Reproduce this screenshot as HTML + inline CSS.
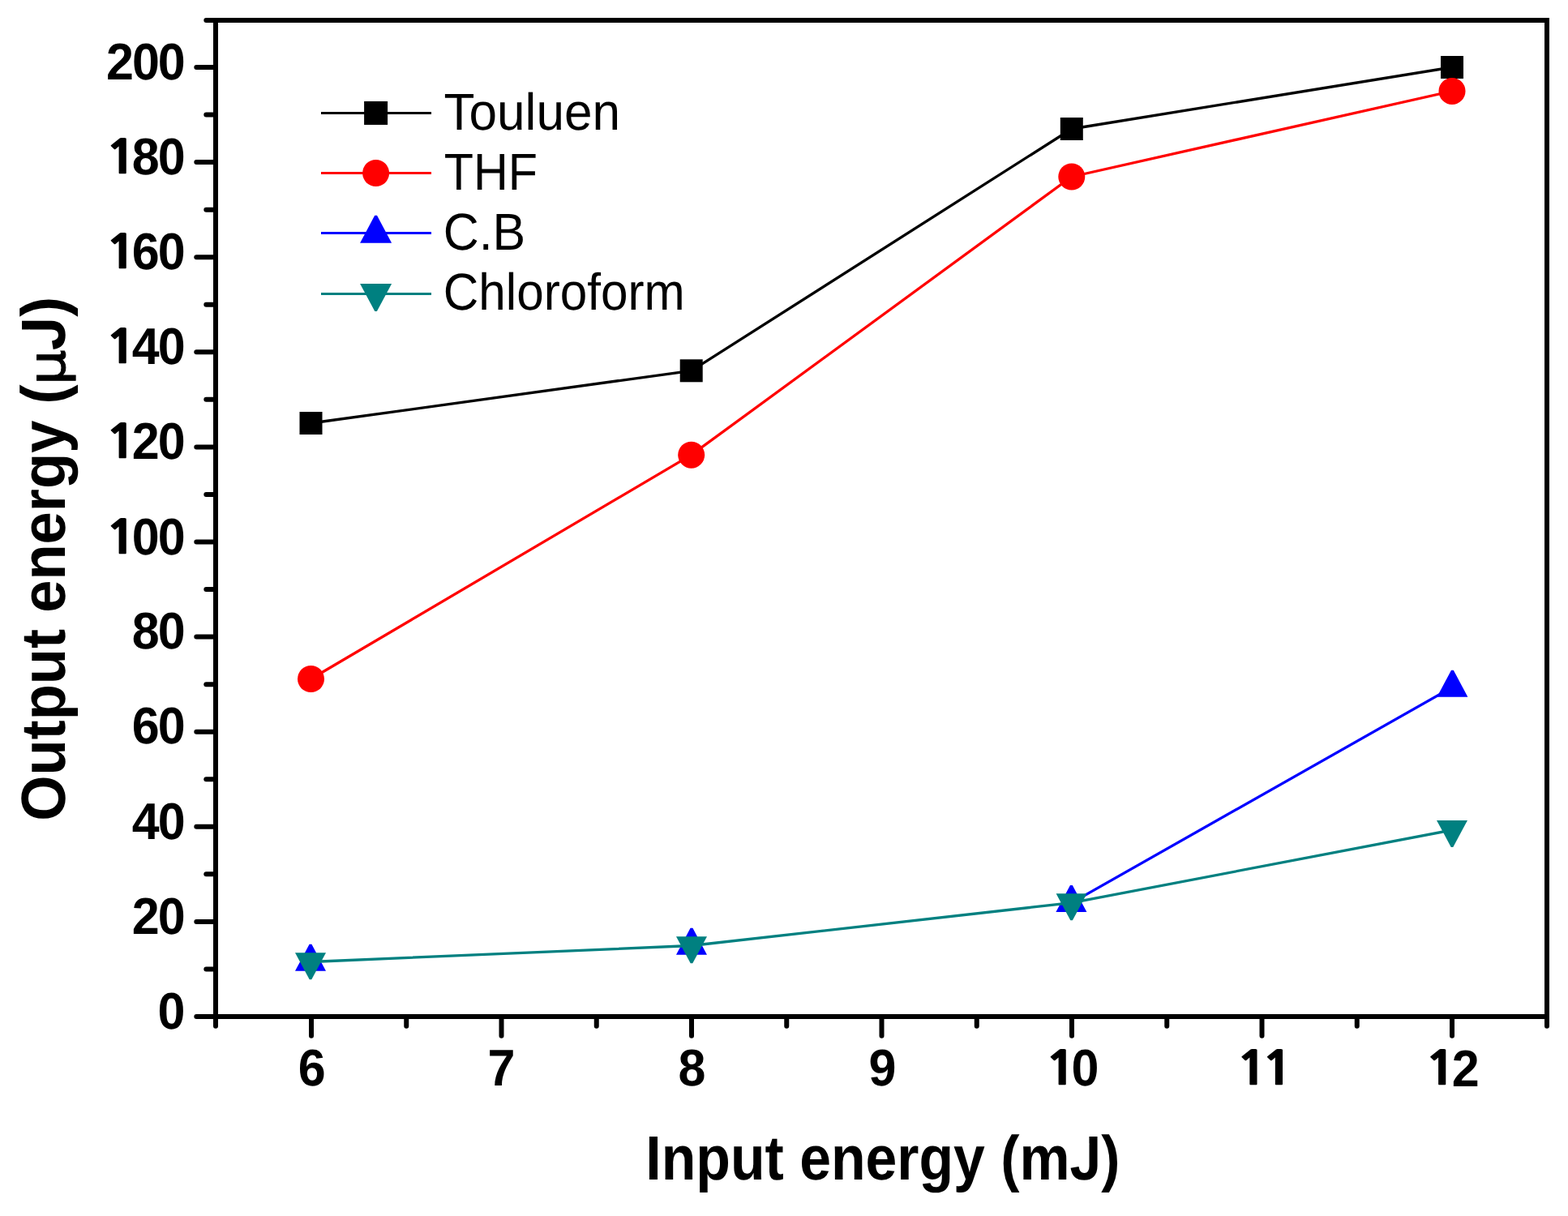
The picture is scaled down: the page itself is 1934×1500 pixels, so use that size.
<!DOCTYPE html>
<html><head><meta charset="utf-8"><title>Output energy vs Input energy</title>
<style>
html,body{margin:0;padding:0;background:#fff;width:1934px;height:1500px;overflow:hidden}
svg{display:block}
text{fill:#000;text-rendering:geometricPrecision}
</style></head>
<body>
<svg width="1934" height="1500" viewBox="0 0 1934 1500">
<rect width="1934" height="1500" fill="#fff"/>
<g>
<polyline points="383.50,522.00 852.70,457.30 1321.80,159.00 1791.00,83.00" fill="none" stroke="#000000" stroke-width="3.3" stroke-linejoin="round"/>
<rect x="369.50" y="508.00" width="28" height="28" fill="#000"/>
<rect x="838.70" y="443.30" width="28" height="28" fill="#000"/>
<rect x="1307.80" y="145.00" width="28" height="28" fill="#000"/>
<rect x="1777.00" y="69.00" width="28" height="28" fill="#000"/>
<polyline points="383.50,837.50 852.70,561.20 1321.80,218.00 1791.00,112.40" fill="none" stroke="#ff0000" stroke-width="3.3" stroke-linejoin="round"/>
<circle cx="383.50" cy="837.50" r="16.5" fill="#ff0000"/>
<circle cx="852.70" cy="561.20" r="16.5" fill="#ff0000"/>
<circle cx="1321.80" cy="218.00" r="16.5" fill="#ff0000"/>
<circle cx="1791.00" cy="112.40" r="16.5" fill="#ff0000"/>
<polyline points="1321.80,1113.60 1791.00,847.80" fill="none" stroke="#0000ff" stroke-width="3.3" stroke-linejoin="round"/>
<polygon points="381.60,1164.80 384.40,1164.80 402.00,1197.80 364.00,1197.80" fill="#0000ff"/>
<polygon points="851.60,1144.80 854.40,1144.80 872.00,1177.80 834.00,1177.80" fill="#0000ff"/>
<polygon points="1320.00,1092.00 1322.80,1092.00 1340.40,1125.00 1302.40,1125.00" fill="#0000ff"/>
<polygon points="1790.00,826.80 1792.80,826.80 1810.40,859.80 1772.40,859.80" fill="#0000ff"/>
<polyline points="383.50,1186.50 852.70,1166.50 1321.80,1113.60 1791.00,1023.90" fill="none" stroke="#008080" stroke-width="3.3" stroke-linejoin="round"/>
<polygon points="364.00,1175.20 402.00,1175.20 384.30,1208.20 381.70,1208.20" fill="#008080"/>
<polygon points="834.00,1155.20 872.00,1155.20 854.30,1188.20 851.70,1188.20" fill="#008080"/>
<polygon points="1302.60,1102.20 1340.60,1102.20 1322.90,1135.20 1320.30,1135.20" fill="#008080"/>
<polygon points="1772.00,1011.90 1810.00,1011.90 1792.30,1044.90 1789.70,1044.90" fill="#008080"/>
</g>
<g stroke="#000" stroke-width="6" stroke-linecap="round">
<line x1="266.0" y1="1254.00" x2="242.30" y2="1254.00"/>
<line x1="266.0" y1="1195.45" x2="254.30" y2="1195.45"/>
<line x1="266.0" y1="1136.90" x2="242.30" y2="1136.90"/>
<line x1="266.0" y1="1078.35" x2="254.30" y2="1078.35"/>
<line x1="266.0" y1="1019.80" x2="242.30" y2="1019.80"/>
<line x1="266.0" y1="961.25" x2="254.30" y2="961.25"/>
<line x1="266.0" y1="902.70" x2="242.30" y2="902.70"/>
<line x1="266.0" y1="844.15" x2="254.30" y2="844.15"/>
<line x1="266.0" y1="785.60" x2="242.30" y2="785.60"/>
<line x1="266.0" y1="727.05" x2="254.30" y2="727.05"/>
<line x1="266.0" y1="668.50" x2="242.30" y2="668.50"/>
<line x1="266.0" y1="609.95" x2="254.30" y2="609.95"/>
<line x1="266.0" y1="551.40" x2="242.30" y2="551.40"/>
<line x1="266.0" y1="492.85" x2="254.30" y2="492.85"/>
<line x1="266.0" y1="434.30" x2="242.30" y2="434.30"/>
<line x1="266.0" y1="375.75" x2="254.30" y2="375.75"/>
<line x1="266.0" y1="317.20" x2="242.30" y2="317.20"/>
<line x1="266.0" y1="258.65" x2="254.30" y2="258.65"/>
<line x1="266.0" y1="200.10" x2="242.30" y2="200.10"/>
<line x1="266.0" y1="141.55" x2="254.30" y2="141.55"/>
<line x1="266.0" y1="83.00" x2="242.30" y2="83.00"/>
<line x1="266.0" y1="25.00" x2="254.30" y2="25.00"/>
<line x1="266.00" y1="1254.0" x2="266.00" y2="1265.70"/>
<line x1="384.00" y1="1254.0" x2="384.00" y2="1277.70"/>
<line x1="501.25" y1="1254.0" x2="501.25" y2="1265.70"/>
<line x1="618.50" y1="1254.0" x2="618.50" y2="1277.70"/>
<line x1="735.75" y1="1254.0" x2="735.75" y2="1265.70"/>
<line x1="853.00" y1="1254.0" x2="853.00" y2="1277.70"/>
<line x1="970.25" y1="1254.0" x2="970.25" y2="1265.70"/>
<line x1="1087.50" y1="1254.0" x2="1087.50" y2="1277.70"/>
<line x1="1204.75" y1="1254.0" x2="1204.75" y2="1265.70"/>
<line x1="1322.00" y1="1254.0" x2="1322.00" y2="1277.70"/>
<line x1="1439.25" y1="1254.0" x2="1439.25" y2="1265.70"/>
<line x1="1556.50" y1="1254.0" x2="1556.50" y2="1277.70"/>
<line x1="1673.75" y1="1254.0" x2="1673.75" y2="1265.70"/>
<line x1="1791.00" y1="1254.0" x2="1791.00" y2="1277.70"/>
<line x1="1908.00" y1="1254.0" x2="1908.00" y2="1265.70"/>
</g>
<rect x="266" y="25" width="1642" height="1229" fill="none" stroke="#000" stroke-width="6"/>
<line x1="396" y1="139.45" x2="532" y2="139.45" stroke="#000000" stroke-width="3"/>
<rect x="449.10" y="124.95" width="29" height="29" fill="#000"/>
<line x1="396" y1="213.5" x2="532" y2="213.5" stroke="#ff0000" stroke-width="3"/>
<circle cx="463.60" cy="213.50" r="16.5" fill="#ff0000"/>
<line x1="396" y1="287.4" x2="532" y2="287.4" stroke="#0000ff" stroke-width="3"/>
<polygon points="462.20,265.80 465.00,265.80 483.10,299.80 444.10,299.80" fill="#0000ff"/>
<line x1="396" y1="362.5" x2="532" y2="362.5" stroke="#008080" stroke-width="3"/>
<polygon points="444.10,350.10 483.10,350.10 464.90,384.10 462.30,384.10" fill="#008080"/>
<text transform="translate(194.59,1268.65) scale(0.959,1)" style="font-family:'Liberation Sans',Arial,Helvetica,sans-serif;font-weight:bold;font-size:63.6px" letter-spacing="-2.2">0</text>
<text transform="translate(162.83,1152.26) scale(0.959,1)" style="font-family:'Liberation Sans',Arial,Helvetica,sans-serif;font-weight:bold;font-size:63.6px" letter-spacing="-2.2">20</text>
<text transform="translate(162.83,1034.85) scale(0.959,1)" style="font-family:'Liberation Sans',Arial,Helvetica,sans-serif;font-weight:bold;font-size:63.6px" letter-spacing="-2.2">40</text>
<text transform="translate(162.83,917.44) scale(0.959,1)" style="font-family:'Liberation Sans',Arial,Helvetica,sans-serif;font-weight:bold;font-size:63.6px" letter-spacing="-2.2">60</text>
<text transform="translate(162.83,800.04) scale(0.959,1)" style="font-family:'Liberation Sans',Arial,Helvetica,sans-serif;font-weight:bold;font-size:63.6px" letter-spacing="-2.2">80</text>
<text transform="translate(129.42,682.65) scale(1.18,1)" style="font-family:'NanumGothic','Liberation Sans',sans-serif;font-weight:800;font-size:56.8px">1</text>
<text transform="translate(162.83,683.65) scale(0.959,1)" style="font-family:'Liberation Sans',Arial,Helvetica,sans-serif;font-weight:bold;font-size:63.6px" letter-spacing="-2.2">00</text>
<text transform="translate(129.42,565.25) scale(1.18,1)" style="font-family:'NanumGothic','Liberation Sans',sans-serif;font-weight:800;font-size:56.8px">1</text>
<text transform="translate(162.83,566.26) scale(0.959,1)" style="font-family:'Liberation Sans',Arial,Helvetica,sans-serif;font-weight:bold;font-size:63.6px" letter-spacing="-2.2">20</text>
<text transform="translate(129.42,447.85) scale(1.18,1)" style="font-family:'NanumGothic','Liberation Sans',sans-serif;font-weight:800;font-size:56.8px">1</text>
<text transform="translate(162.83,448.85) scale(0.959,1)" style="font-family:'Liberation Sans',Arial,Helvetica,sans-serif;font-weight:bold;font-size:63.6px" letter-spacing="-2.2">40</text>
<text transform="translate(129.42,331.45) scale(1.18,1)" style="font-family:'NanumGothic','Liberation Sans',sans-serif;font-weight:800;font-size:56.8px">1</text>
<text transform="translate(162.83,332.44) scale(0.959,1)" style="font-family:'Liberation Sans',Arial,Helvetica,sans-serif;font-weight:bold;font-size:63.6px" letter-spacing="-2.2">60</text>
<text transform="translate(129.42,214.05) scale(1.18,1)" style="font-family:'NanumGothic','Liberation Sans',sans-serif;font-weight:800;font-size:56.8px">1</text>
<text transform="translate(162.83,215.04) scale(0.959,1)" style="font-family:'Liberation Sans',Arial,Helvetica,sans-serif;font-weight:bold;font-size:63.6px" letter-spacing="-2.2">80</text>
<text transform="translate(131.11,97.66) scale(0.959,1)" style="font-family:'Liberation Sans',Arial,Helvetica,sans-serif;font-weight:bold;font-size:63.6px" letter-spacing="-2.2">200</text>
<text transform="translate(367.66,1338.84) scale(0.959,1)" style="font-family:'Liberation Sans',Arial,Helvetica,sans-serif;font-weight:bold;font-size:63.6px" letter-spacing="-2.2">6</text>
<text transform="translate(601.52,1338.81) scale(0.959,1)" style="font-family:'Liberation Sans',Arial,Helvetica,sans-serif;font-weight:bold;font-size:63.6px" letter-spacing="-2.2">7</text>
<text transform="translate(836.49,1338.84) scale(0.959,1)" style="font-family:'Liberation Sans',Arial,Helvetica,sans-serif;font-weight:bold;font-size:63.6px" letter-spacing="-2.2">8</text>
<text transform="translate(1071.53,1338.88) scale(0.959,1)" style="font-family:'Liberation Sans',Arial,Helvetica,sans-serif;font-weight:bold;font-size:63.6px" letter-spacing="-2.2">9</text>
<text transform="translate(1288.59,1338.25) scale(1.18,1)" style="font-family:'NanumGothic','Liberation Sans',sans-serif;font-weight:800;font-size:56.8px">1</text>
<text transform="translate(1321.56,1338.86) scale(0.959,1)" style="font-family:'Liberation Sans',Arial,Helvetica,sans-serif;font-weight:bold;font-size:63.6px" letter-spacing="-2.2">0</text>
<text transform="translate(1524.18,1338.25) scale(1.18,1)" style="font-family:'NanumGothic','Liberation Sans',sans-serif;font-weight:800;font-size:56.8px">1</text>
<text transform="translate(1555.86,1338.25) scale(1.18,1)" style="font-family:'NanumGothic','Liberation Sans',sans-serif;font-weight:800;font-size:56.8px">1</text>
<text transform="translate(1757.02,1338.25) scale(1.18,1)" style="font-family:'NanumGothic','Liberation Sans',sans-serif;font-weight:800;font-size:56.8px">1</text>
<text transform="translate(1790.75,1339.92) scale(0.959,1)" style="font-family:'Liberation Sans',Arial,Helvetica,sans-serif;font-weight:bold;font-size:63.6px" letter-spacing="-2.2">2</text>
<text transform="translate(547.43,159.68) scale(0.9706,1)" style="font-family:'Liberation Sans',Arial,Helvetica,sans-serif;font-weight:normal;font-size:64px">Touluen</text>
<text transform="translate(547.81,234.20) scale(0.9266,1)" style="font-family:'Liberation Sans',Arial,Helvetica,sans-serif;font-weight:normal;font-size:64px">THF</text>
<text transform="translate(546.72,307.70) scale(0.9516,1)" style="font-family:'Liberation Sans',Arial,Helvetica,sans-serif;font-weight:normal;font-size:64px">C.B</text>
<text transform="translate(546.76,381.70) scale(0.9411,1)" style="font-family:'Liberation Sans',Arial,Helvetica,sans-serif;font-weight:normal;font-size:64px">Chloroform</text>
<text transform="translate(796.34,1454.70) scale(0.9058,1)" style="font-family:'Liberation Sans',Arial,Helvetica,sans-serif;font-weight:bold;font-size:77px">Input energy (mJ)</text>
<text transform="translate(80.00,1012.87) rotate(-90) scale(0.9393,1)" style="font-family:'Liberation Sans',Arial,Helvetica,sans-serif;font-weight:bold;font-size:77px">Output energy (</text>
<text transform="translate(80.00,475.07) rotate(-90) scale(1.0909,1)" style="font-family:'DejaVu Sans','Liberation Sans',sans-serif;font-weight:normal;font-size:63px;stroke:#000;stroke-width:1.0px">μ</text>
<text transform="translate(80.00,432.37) rotate(-90) scale(0.9695,1)" style="font-family:'Liberation Sans',Arial,Helvetica,sans-serif;font-weight:bold;font-size:77px">J)</text>
<rect x="1332.8" y="1401.3" width="10.65" height="10.0" fill="#fff"/>
<rect x="26.0" y="406.45" width="10.5" height="11.35" fill="#fff"/>
</svg>
</body></html>
